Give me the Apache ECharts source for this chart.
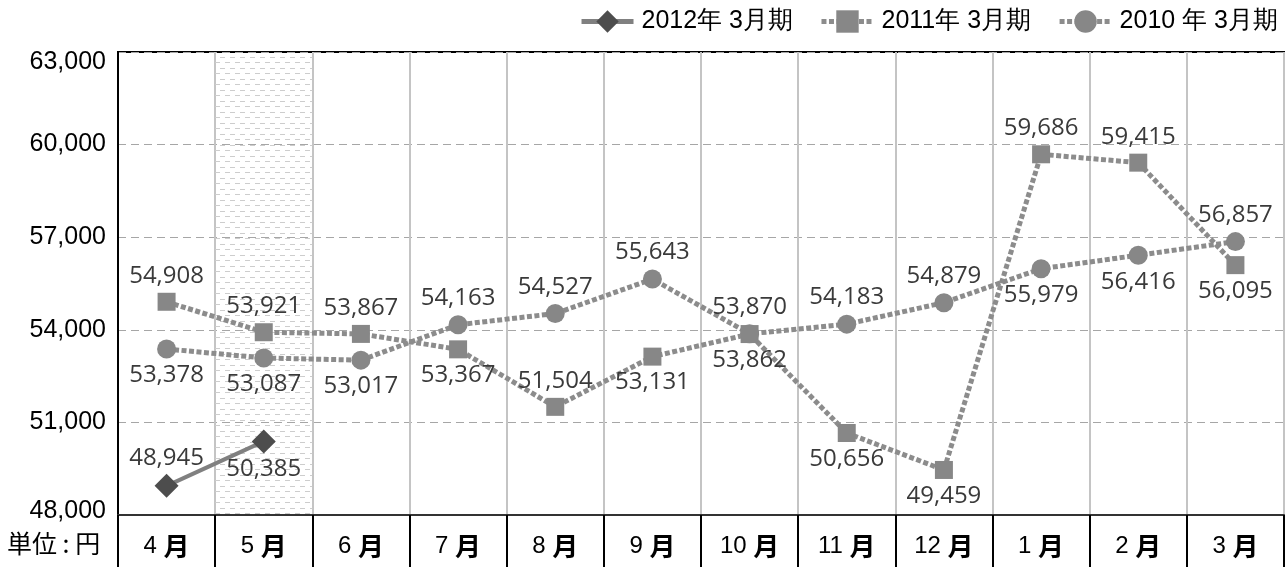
<!DOCTYPE html>
<html>
<head>
<meta charset="utf-8">
<script src="https://cdn.jsdelivr.net/npm/echarts@6/dist/echarts.min.js"></script>
<style>
html,body{margin:0;padding:0;background:#fff;}
#c{width:1286px;height:567px;}
</style>
</head>
<body>
<div id="c"></div>
<script>
// ---- data ----
const categories = ['4','5','6','7','8','9','10','11','12','1','2','3'];
const seriesNames = ['2012年 3月期', '2011年 3月期', '2010 年 3月期'];
const fy2012 = [48945, 50385, null, null, null, null, null, null, null, null, null, null];
const fy2011 = [54908, 53921, 53867, 53367, 51504, 53131, 53862, 50656, 49459, 59686, 59415, 56095];
const fy2010 = [53378, 53087, 53017, 54163, 54527, 55643, 53870, 54183, 54879, 55979, 56416, 56857];
// label side: 't' above, 'b' below
const pos2012 = ['t','b'];
const pos2011 = ['t','t','t','b','t','b','b','b','b','t','t','b'];
const pos2010 = ['b','b','b','t','t','t','t','t','t','b','b','t'];
const highlightMonth = '5';
const yMin = 48000, yMax = 63000, yStep = 3000;
const unitText = '単位 : 円';

// hatch pattern for highlighted month
const pc = document.createElement('canvas');
pc.width = 10; pc.height = 11;
const g = pc.getContext('2d');
g.fillStyle = '#cdcdcd';
g.fillRect(0, 2, 5, 1);
g.fillRect(5, 7, 5, 1);

const labelFont = { fontFamily: "'Open Sans', 'Noto Sans', sans-serif", fontSize: 24, color: '#3a3a3a' };
const fmt = v => Number(v).toLocaleString('en-US');
const dotted = { color: '#8c8c8c', width: 5, type: [5, 2.5], cap: 'butt' };
const solid = { color: '#808080', width: 5, type: 'solid' };

function mkData(vals, pos) {
  return vals.map((v, i) => {
    if (v == null) return null;
    return { value: v, label: { position: pos[i] === 't' ? 'top' : 'bottom' } };
  });
}

const chart = echarts.init(document.getElementById('c'), null, { renderer: 'canvas' });
const yl = { fontFamily: "'Liberation Sans', Arial, sans-serif", fontSize: 25, color: '#000' };
const option = {
  animation: false,
  backgroundColor: '#fff',
  grid: { left: 118, right: 2, top: 52, bottom: 52, show: true, borderColor: '#000', borderWidth: 2, backgroundColor: 'transparent' },
  legend: {
    data: [
      { name: seriesNames[0], lineStyle: solid },
      { name: seriesNames[1], lineStyle: dotted },
      { name: seriesNames[2], lineStyle: dotted }
    ],
    right: 3, top: 4,
    itemWidth: 52, itemHeight: 28, itemGap: 26,
    textStyle: { fontFamily: "'Liberation Sans', Arial, sans-serif", fontSize: 25, color: '#000', padding: [0, 0, 0, 3] }
  },
  xAxis: {
    type: 'category',
    data: categories,
    boundaryGap: true,
    axisLine: { lineStyle: { color: '#333', width: 2 } },
    axisTick: { show: true, length: 52, lineStyle: { color: '#000', width: 2 } },
    splitLine: { show: true, lineStyle: { color: '#c4c4c4', width: 2 } },
    axisLabel: {
      margin: 18,
      formatter: v => '{n|' + v + ' }{m|月}',
      rich: {
        n: { fontFamily: "'Liberation Sans', Arial, sans-serif", fontSize: 24, color: '#000' },
        m: { fontFamily: "'Noto Sans CJK JP', sans-serif", fontWeight: 'bold', fontSize: 26, color: '#000' }
      }
    }
  },
  yAxis: {
    type: 'value',
    min: yMin, max: yMax, interval: yStep,
    axisLine: { show: true, lineStyle: { color: '#000', width: 2 } },
    axisTick: { show: false },
    splitLine: { show: true, lineStyle: { color: '#a6a6a6', width: 1, type: [8, 5] } },
    axisLabel: {
      margin: 12,
      formatter: v => {
        if (v === yMax) return '{t|' + fmt(v) + '}';
        if (v === yMin) return '{b|' + fmt(v) + '}';
        return '{r|' + fmt(v) + '}';
      },
      rich: {
        r: { ...yl },
        t: { ...yl, padding: [20, 0, 0, 0] },
        b: { ...yl, padding: [0, 0, 8, 0] }
      }
    }
  },
  graphic: [{
    type: 'text', left: 7, top: 531,
    style: { text: unitText, font: "25px 'Noto Sans CJK JP', sans-serif", fill: '#000' }
  }],
  series: [
    {
      name: 'band', type: 'bar', silent: true, z: 1,
      barWidth: '100%',
      data: categories.map(c => c === highlightMonth ? yMax : null),
      itemStyle: { color: { image: pc, repeat: 'repeat' } },
      label: { show: false }
    },
    {
      name: seriesNames[2], type: 'line', z: 3,
      data: mkData(fy2010, pos2010),
      symbol: 'circle', symbolSize: 19,
      itemStyle: { color: '#878787' },
      lineStyle: dotted,
      label: { show: true, distance: 5, formatter: p => fmt(p.value), ...labelFont }
    },
    {
      name: seriesNames[1], type: 'line', z: 4,
      data: mkData(fy2011, pos2011),
      symbol: 'rect', symbolSize: 18,
      itemStyle: { color: '#878787' },
      lineStyle: dotted,
      label: { show: true, distance: 5, formatter: p => fmt(p.value), ...labelFont }
    },
    {
      name: seriesNames[0], type: 'line', z: 5,
      data: mkData(fy2012, pos2012),
      symbol: 'diamond', symbolSize: 24,
      itemStyle: { color: '#4d4d4d' },
      lineStyle: { color: '#808080', width: 4 },
      label: { show: true, distance: 4, formatter: p => fmt(p.value), ...labelFont }
    }
  ]
};
chart.setOption(option);
</script>
</body>
</html>
